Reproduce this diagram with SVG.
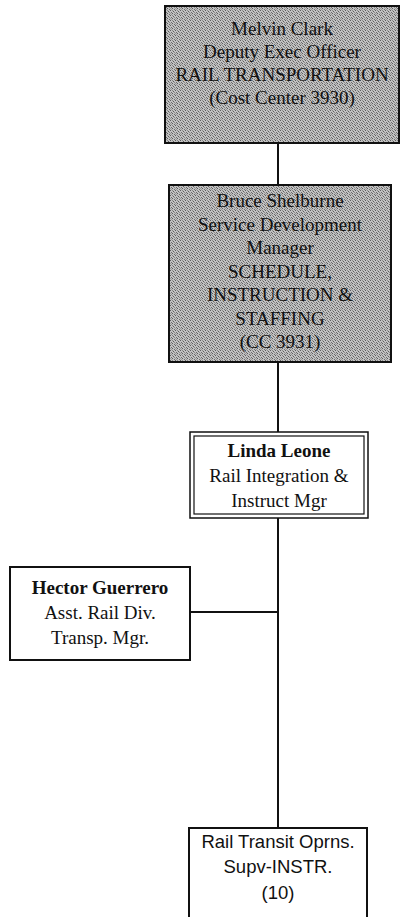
<svg xmlns="http://www.w3.org/2000/svg" width="402" height="917" viewBox="0 0 402 917">
<defs>
<pattern id="stip" width="5" height="5" patternUnits="userSpaceOnUse">
<rect width="5" height="5" fill="#c2c2c2"/>
<rect x="0" y="0" width="1" height="1" fill="#5c5c5c"/>
<rect x="2" y="0" width="1" height="1" fill="#8a8a8a"/>
<rect x="3" y="1" width="1" height="1" fill="#5c5c5c"/>
<rect x="1" y="2" width="1" height="1" fill="#6a6a6a"/>
<rect x="4" y="2" width="1" height="1" fill="#8a8a8a"/>
<rect x="2" y="3" width="1" height="1" fill="#5c5c5c"/>
<rect x="0" y="3" width="1" height="1" fill="#999"/>
<rect x="4" y="4" width="1" height="1" fill="#6a6a6a"/>
<rect x="1" y="4" width="1" height="1" fill="#999"/>
</pattern>
</defs>
<style>
.box{stroke:#111;stroke-width:2;}
.gray{fill:url(#stip);}
.white{fill:#fff;}
.serif{font-family:"Liberation Serif","DejaVu Serif",serif;font-size:19px;fill:#111;text-anchor:middle;}
.b{font-weight:bold;}
.sans{font-family:"Liberation Sans",Arial,sans-serif;font-size:18.5px;fill:#111;text-anchor:middle;}
.conn{stroke:#111;stroke-width:2;fill:none;}
</style>
<rect width="402" height="917" fill="#fff"/>
<g id="connectors">
<line class="conn" x1="278" y1="143" x2="278" y2="185"/>
<line class="conn" x1="278" y1="362" x2="278" y2="432"/>
<line class="conn" x1="278" y1="518" x2="278" y2="828"/>
<line class="conn" x1="190" y1="612" x2="278" y2="612"/>
</g>
<g id="melvin">
<rect class="box gray" x="165" y="6" width="234" height="137"/>
<text class="serif" x="282" y="35">Melvin Clark</text>
<text class="serif" x="282" y="58">Deputy Exec Officer</text>
<text class="serif" x="282" y="81">RAIL TRANSPORTATION</text>
<text class="serif" x="282" y="104">(Cost Center 3930)</text>
</g>
<g id="bruce">
<rect class="box gray" x="169" y="185" width="222" height="177"/>
<text class="serif" x="280" y="207">Bruce Shelburne</text>
<text class="serif" x="280" y="230.5">Service Development</text>
<text class="serif" x="280" y="254">Manager</text>
<text class="serif" x="280" y="277.5">SCHEDULE,</text>
<text class="serif" x="280" y="301">INSTRUCTION &amp;</text>
<text class="serif" x="280" y="324.5">STAFFING</text>
<text class="serif" x="280" y="348">(CC 3931)</text>
</g>
<g id="linda">
<rect class="white" x="190" y="432" width="178" height="86" stroke="#111" stroke-width="1.5"/>
<rect fill="none" x="194" y="436" width="170" height="78" stroke="#111" stroke-width="1.2"/>
<text class="serif b" x="279" y="457">Linda Leone</text>
<text class="serif" x="279" y="482">Rail Integration &amp;</text>
<text class="serif" x="279" y="507">Instruct Mgr</text>
</g>
<g id="hector">
<rect class="box white" x="10" y="567" width="180" height="93"/>
<text class="serif b" x="100" y="594">Hector Guerrero</text>
<text class="serif" x="100" y="619">Asst. Rail Div.</text>
<text class="serif" x="100" y="644">Transp. Mgr.</text>
</g>
<g id="rtos">
<rect class="box white" x="189" y="828" width="178" height="100"/>
<text class="sans" x="278" y="848">Rail Transit Oprns.</text>
<text class="sans" x="278" y="873">Supv-INSTR.</text>
<text class="sans" x="278" y="899">(10)</text>
</g>
</svg>
